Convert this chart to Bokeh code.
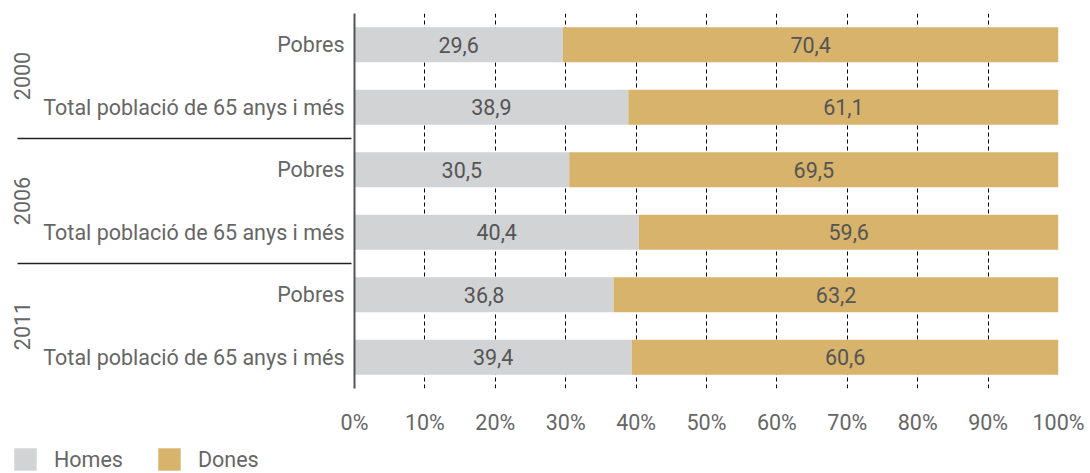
from bokeh.plotting import figure
from bokeh.layouts import column
from bokeh.models import (FactorRange, FixedTicker, PrintfTickFormatter,
                          Legend, LegendItem, ColumnDataSource)
from bokeh.embed import file_html
from bokeh.resources import INLINE
from bokeh.core.properties import value

# Share of men (Homes) and women (Dones) by year and population group, %
years = ["2000", "2000", "2006", "2006", "2011", "2011"]
groups = ["Pobres", "Total població de 65 anys i més"] * 3
homes = [29.6, 38.9, 30.5, 40.4, 36.8, 39.4]
dones = [70.4, 61.1, 69.5, 59.6, 63.2, 60.6]
x_ticks = [0, 10, 20, 30, 40, 50, 60, 70, 80, 90, 100]
series = ["Homes", "Dones"]

FONT = "Roboto"
FSIZE = "21.5px"
TEXT = "#666666"
GREY = "#d2d3d5"
GOLD = "#d7b36b"

factors = list(zip(years, groups))
# first factor sits at the bottom of a vertical range, so reverse
y_range = FactorRange(factors=factors[::-1], group_padding=0,
                      factor_padding=0, range_padding=0)

p = figure(width=1090, height=443, y_range=y_range, x_range=(0, 100),
           output_backend="svg", toolbar_location=None,
           min_border_left=354, min_border_right=32,
           min_border_top=13, min_border_bottom=55)
p.outline_line_color = None
p.frame_align = False

src = ColumnDataSource(dict(
    y=factors,
    left=[0] * len(homes),
    mid=homes,
    right=[h + d for h, d in zip(homes, dones)],
    hx=[h / 2 for h in homes],
    dx=[h + d / 2 for h, d in zip(homes, dones)],
    htxt=[f"{h:.1f}".replace(".", ",") for h in homes],
    dtxt=[f"{d:.1f}".replace(".", ",") for d in dones]))

p.hbar(y="y", left="left", right="mid", height=0.56, source=src,
       fill_color=GREY, line_color=None)
p.hbar(y="y", left="mid", right="right", height=0.56, source=src,
       fill_color=GOLD, line_color=None)

common = dict(source=src, text_align="center", text_baseline="middle",
              text_font=value(FONT), text_font_size=FSIZE, text_color="#555555")
p.text(x="hx", y="y", text="htxt", **common)
p.text(x="dx", y="y", text="dtxt", **common)

# dashed vertical grid under the bars
p.ygrid.visible = False
p.xgrid.grid_line_color = "#000000"
p.xgrid.grid_line_dash = "4 3"
p.xgrid.grid_line_width = 1

# x axis: percentage labels only
xa = p.xaxis[0]
xa.ticker = FixedTicker(ticks=x_ticks)
xa.formatter = PrintfTickFormatter(format="%d%%")
xa.axis_line_color = None
xa.major_tick_line_color = None
xa.minor_tick_line_color = None
xa.major_tick_out = 0
xa.major_label_standoff = 21
xa.major_label_text_font = FONT
xa.major_label_text_font_size = FSIZE
xa.major_label_text_color = TEXT

# y axis: categories plus rotated year groups with separators
ya = p.yaxis[0]
ya.axis_line_color = "#555555"
ya.axis_line_width = 2
ya.major_tick_line_color = None
ya.minor_tick_line_color = None
ya.major_tick_out = 0
ya.major_label_standoff = 10
ya.major_label_text_font = FONT
ya.major_label_text_font_size = FSIZE
ya.major_label_text_color = TEXT
ya.group_text_font = FONT
ya.group_text_font_size = FSIZE
ya.group_text_color = TEXT
ya.group_text_font_style = "normal"
ya.separator_line_color = "#222222"
ya.separator_line_width = 1.5

# legend strip underneath the chart; the key renderers are zero-sized
lg = figure(width=1090, height=30, x_range=(0, 1), y_range=(0, 1),
            output_backend="svg", toolbar_location=None, min_border=0)
lg.frame_align = False
lg.outline_line_color = None
lg.axis.visible = False
lg.grid.visible = False
keys = ColumnDataSource(dict(x=[0], y=[0], w=[0], h=[0]))
key_h = lg.rect(x="x", y="y", width="w", height="h", source=keys,
                fill_color=GREY, line_color=None)
key_d = lg.rect(x="x", y="y", width="w", height="h", source=keys,
                fill_color=GOLD, line_color=None)
legend = Legend(items=[LegendItem(label=series[0], renderers=[key_h]),
                       LegendItem(label=series[1], renderers=[key_d])],
                orientation="horizontal", location=(11, 0),
                padding=0, margin=0, spacing=32, label_standoff=15,
                glyph_width=28, glyph_height=28, label_height=28,
                border_line_color=None, background_fill_alpha=0,
                label_text_font=FONT, label_text_font_size=FSIZE,
                label_text_color=TEXT, label_text_baseline="middle")
lg.add_layout(legend, "center")

open("out.html", "w").write(file_html(column(p, lg, spacing=0), INLINE))
